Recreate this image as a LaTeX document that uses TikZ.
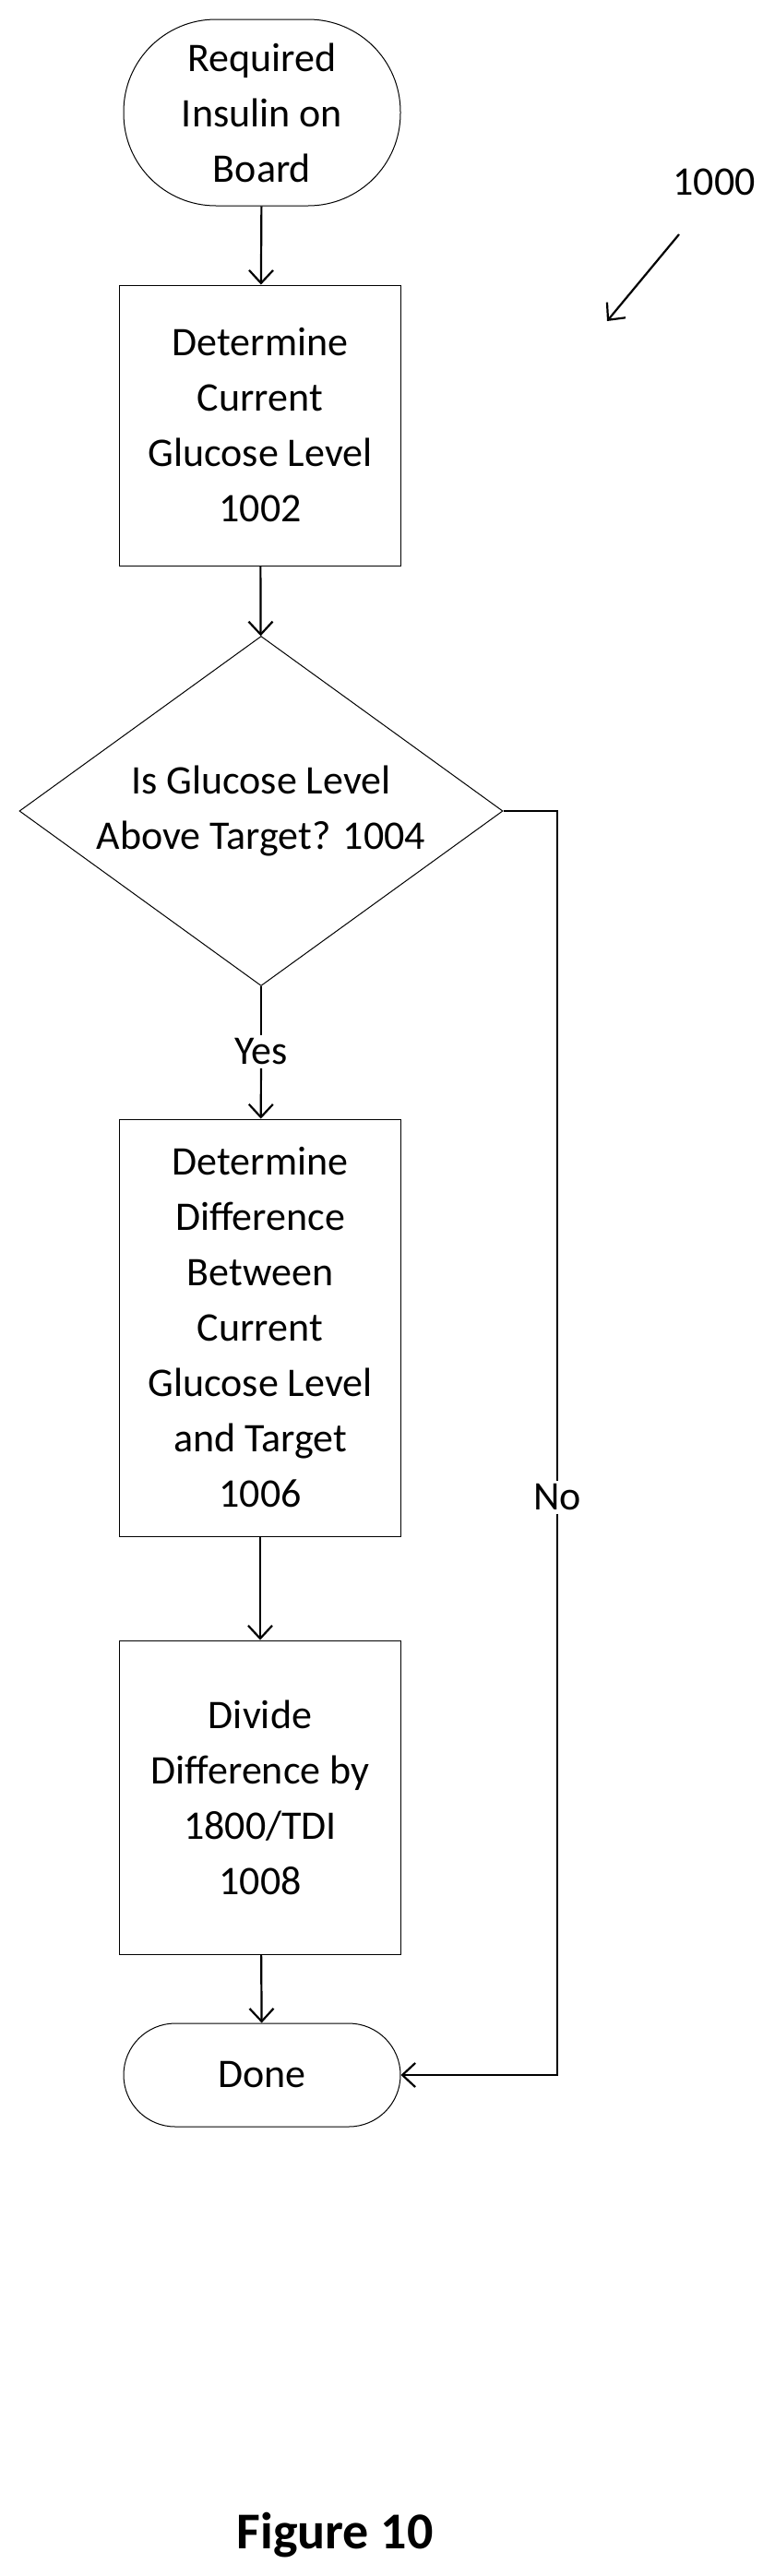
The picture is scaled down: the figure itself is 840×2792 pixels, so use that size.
\documentclass[tikz,border=0pt]{standalone}
\usepackage{fontspec}
\setmainfont{Carlito}
\usetikzlibrary{shapes.geometric, arrows.meta, positioning}

\begin{document}
\begin{tikzpicture}[x=1pt, y=-1pt,
      box/.style={draw, line width=1pt, minimum width=305pt, align=center,
                  font=\fontsize{44}{60}\selectfont},
      term/.style={box, minimum width=300pt},
      flow/.style={-{Straight Barb[length=14pt, width=26pt]}, line width=2.2pt}
    ]
      \useasboundingbox (0,0) rectangle (840,2792);
      \node[term, rounded corners=100pt, minimum height=202pt] (start) at (284,122) {Required\\Insulin on\\Board};
      \node[box, minimum height=304pt] (glucose) at (282,461) {Determine\\Current\\Glucose Level\\1002};
      \node[diamond, draw, line width=1pt, aspect=1.38, minimum width=524pt, minimum height=379pt,
            inner sep=0pt, align=center, font=\fontsize{44}{60}\selectfont] (check) at (283,879) {Is Glucose Level\\Above Target? 1004};
      \node[box, minimum height=452pt] (diff) at (282,1439) {Determine\\Difference\\Between\\Current\\Glucose Level\\and Target\\1006};
      \node[box, minimum height=340pt] (divide) at (282,1948) {Divide\\Difference by\\1800/TDI\\1008};
      \node[term, rounded corners=56pt, minimum height=112pt] (done) at (284,2249) {Done};

      \node[font=\fontsize{44}{60}\selectfont] (yes) at (283,1140) {Yes};
      \node[font=\fontsize{44}{60}\selectfont] (no) at (604,1623) {No};
      \node[font=\fontsize{44}{60}\selectfont] (fig) at (774,197) {1000};
      \node[font=\fontsize{56}{66}\selectfont\bfseries] (title) at (363,2748) {Figure 10};
      \coordinate (figtail) at (736,254);
      \coordinate (fighead) at (658,348);

      \draw[flow] (start) -- (glucose);
      \draw[flow] (glucose) -- (check);
      \draw[line width=2.2pt] (check.south) -- (yes);
      \draw[flow] (yes) -- (diff);
      \draw[flow] (diff) -- (divide);
      \draw[flow] (divide) -- (done);
      \draw[line width=2.2pt] (check.east) -| (no);
      \draw[flow] (no) |- (done.east);
      \draw[flow] (figtail) -- (fighead);
\end{tikzpicture}
\end{document}
